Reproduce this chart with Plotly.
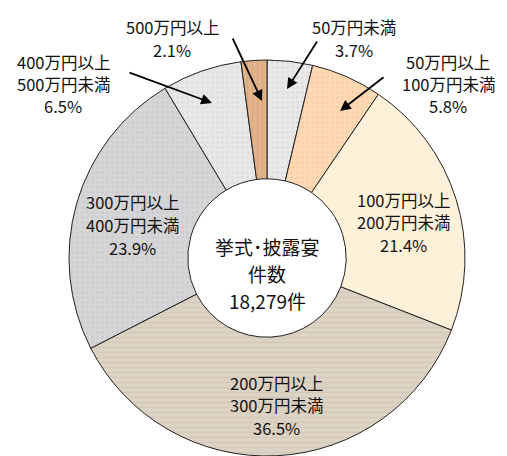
import plotly.graph_objects as go

# ---- data ----
labels_line1 = ["50万円未満", "50万円以上", "100万円以上", "200万円以上", "300万円以上", "400万円以上", "500万円以上"]
labels_line2 = ["", "100万円未満", "200万円未満", "300万円未満", "400万円未満", "500万円未満", ""]
shares = [3.7, 5.8, 21.4, 36.5, 23.9, 6.5, 2.1]
total_count = "18,279件"
center_title = ["挙式･披露宴", "件数"]

slice_colors = ["#e9e9e9", "#fdd9b6", "#fef1da", "#dcd3c5", "#d6d6d8", "#e8e8e8", "#e2b48c"]
pattern_fg = ["#d2d2d2", "#fbc490", "#fbe6c6", "#cbbfad", "#c4c4c8", "#d3d3d3", "#cf9a6c"]
pattern_shape = [".", ".", "", "-", ".", ".", "|"]

W, H = 507, 456
FONT = "Noto Sans CJK JP"

fig = go.Figure()
fig.add_trace(go.Pie(
    values=shares,
    labels=[a + b for a, b in zip(labels_line1, labels_line2)],
    sort=False,
    direction="clockwise",
    rotation=0,
    hole=0.4,
    textinfo="none",
    hoverinfo="label+percent",
    marker=dict(
        colors=slice_colors,
        line=dict(color="#222222", width=1),
        pattern=dict(shape=pattern_shape, fgcolor=pattern_fg, size=5, solidity=0.25, fillmode="overlay"),
    ),
    domain=dict(x=[(267 - 198) / W, (267 + 198) / W], y=[0, 396 / H]),
    showlegend=False,
))

def px(x, y):
    return x / W, 1 - y / H

annotations = []
def add_lines(lines, cx, cy, spacing=22.5, size=16.5):
    n = len(lines)
    for i, t in enumerate(lines):
        yy = cy + (i - (n - 1) / 2) * spacing
        xp, yp = px(cx, yy)
        annotations.append(dict(x=xp, y=yp, xref="paper", yref="paper", text=t,
                                showarrow=False, xanchor="center", yanchor="middle",
                                font=dict(family=FONT, size=size, color="#111111")))

# label placement (pixel centres) for each slice
label_pos = [(354, 38.5), (448, 84), (403, 222), (276, 405), (132, 225), (63, 84), (172, 38.5)]
for i in range(len(shares)):
    lines = [labels_line1[i]] + ([labels_line2[i]] if labels_line2[i] else []) + [f"{shares[i]:.1f}%"]
    add_lines(lines, *label_pos[i])

# arrows for small slices: (tail, head)
arrows = {0: ((318, 40), (287, 89)), 1: ((385, 76), (340, 111)),
          5: ((128, 72), (212, 103)), 6: ((232, 37), (262, 101))}
for i, ((tx, ty), (hx, hy)) in arrows.items():
    xp, yp = px(hx, hy)
    annotations.append(dict(x=xp, y=yp, xref="paper", yref="paper", text="",
                            showarrow=True, ax=tx - hx, ay=ty - hy, axref="pixel", ayref="pixel",
                            arrowhead=2, arrowsize=1.2, arrowwidth=1.8, arrowcolor="#000000",
                            standoff=0, startstandoff=0))

# centre text
for t, yy in zip(center_title + [total_count], [246, 273, 300]):
    xp, yp = px(267, yy)
    annotations.append(dict(x=xp, y=yp, xref="paper", yref="paper", text=t, showarrow=False,
                            xanchor="center", yanchor="middle", borderpad=0,
                            font=dict(family=FONT, size=19, color="#111111")))

fig.update_layout(
    width=W, height=H,
    margin=dict(l=0, r=0, t=0, b=0),
    paper_bgcolor="white", plot_bgcolor="white",
    annotations=annotations,
)
fig.write_html("out.html", config={"displayModeBar": False},
               post_script="document.body.style.margin='0';document.body.style.overflow='hidden';")
